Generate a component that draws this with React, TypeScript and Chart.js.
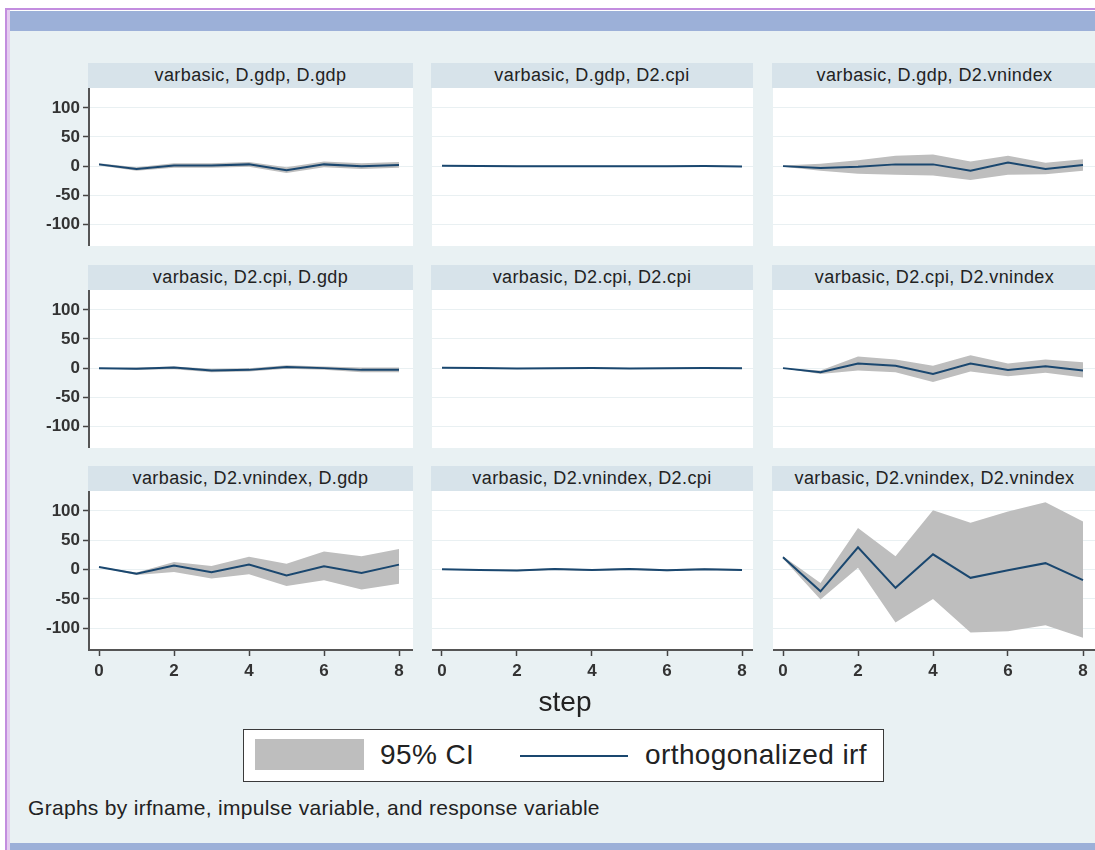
import React, { useEffect, useRef } from "react";
import { Chart, registerables } from "chart.js";

Chart.register(...registerables);

// ---------- data ----------
const steps = [0, 1, 2, 3, 4, 5, 6, 7, 8];
const yTicks = [-100, -50, 0, 50, 100];
const xTicks = [0, 2, 4, 6, 8];

const panelTitles = [
  "varbasic, D.gdp, D.gdp",
  "varbasic, D.gdp, D2.cpi",
  "varbasic, D.gdp, D2.vnindex",
  "varbasic, D2.cpi, D.gdp",
  "varbasic, D2.cpi, D2.cpi",
  "varbasic, D2.cpi, D2.vnindex",
  "varbasic, D2.vnindex, D.gdp",
  "varbasic, D2.vnindex, D2.cpi",
  "varbasic, D2.vnindex, D2.vnindex",
];

const irfGdpGdp = [3, -5, 1, 1, 3, -7, 3, 0, 2];
const loGdpGdp = [1, -8, -3, -3, -1, -12, -2, -5, -3];
const hiGdpGdp = [5, -2, 5, 5, 7, -2, 8, 5, 7];

const irfGdpCpi = [0.5, 0.3, 0, -0.3, -0.2, 0, -0.2, 0.2, -0.5];
const loGdpCpi = [0.3, -0.5, -0.8, -1, -1, -0.8, -1, -0.6, -1.3];
const hiGdpCpi = [0.7, 1, 0.8, 0.5, 0.6, 0.8, 0.6, 1, 0.3];

const irfGdpVn = [0, -3, -1, 3, 3, -8, 6, -5, 2];
const loGdpVn = [-1, -8, -13, -15, -16, -24, -15, -14, -8];
const hiGdpVn = [1, 4, 10, 18, 20, 8, 18, 6, 12];

const irfCpiGdp = [0, -1, 1, -4, -3, 2, 0, -3, -3];
const loCpiGdp = [0, -3, -2, -7, -6, -1, -3, -7, -7];
const hiCpiGdp = [0, 1, 3, -1, 0, 5, 3, 1, 1];

const irfCpiCpi = [0.5, 0.3, -0.8, 0, 0.2, -0.6, 0, 0.2, -0.3];
const loCpiCpi = [0.3, -0.3, -1.5, -0.8, -0.6, -1.4, -0.8, -0.6, -1.1];
const hiCpiCpi = [0.7, 0.9, 0, 0.8, 1, 0.2, 0.8, 1, 0.5];

const irfCpiVn = [0, -7, 8, 4, -10, 8, -3, 3, -4];
const loCpiVn = [0, -10, -4, -7, -24, -6, -14, -8, -16];
const hiCpiVn = [0, -4, 20, 15, 4, 22, 8, 15, 10];

const irfVnGdp = [4.5, -7, 7, -4.5, 8.5, -10, 5.7, -5.7, 8.5];
const loVnGdp = [4, -9, -4, -15, -8, -28, -18, -34, -24];
const hiVnGdp = [5, -5, 13, 6, 22, 10, 31, 23, 35];

const irfVnCpi = [0.5, -0.8, -1.5, 1, -0.8, 1, -1, 0.8, -0.5];
const loVnCpi = [0.3, -1.8, -2.8, -0.5, -2.3, -0.6, -2.6, -0.8, -2.1];
const hiVnCpi = [0.7, 0.2, -0.2, 2.5, 0.7, 2.6, 0.6, 2.4, 1.1];

const irfVnVn = [21, -37, 38, -31, 26, -14, -1, 11, -18];
const loVnVn = [19, -51, 3, -90, -50, -107, -105, -95, -116];
const hiVnVn = [23, -23, 71, 23, 101, 80, 99, 115, 82];

const panelIrf = [irfGdpGdp, irfGdpCpi, irfGdpVn, irfCpiGdp, irfCpiCpi, irfCpiVn, irfVnGdp, irfVnCpi, irfVnVn];
const panelLo = [loGdpGdp, loGdpCpi, loGdpVn, loCpiGdp, loCpiCpi, loCpiVn, loVnGdp, loVnCpi, loVnVn];
const panelHi = [hiGdpGdp, hiGdpCpi, hiGdpVn, hiCpiGdp, hiCpiCpi, hiCpiVn, hiVnGdp, hiVnCpi, hiVnVn];

const legendLabels = ["95% CI", "orthogonalized irf"];
const xAxisTitle = "step";
const noteText = "Graphs by irfname, impulse variable, and response variable";

// ---------- style / layout ----------
const FONT = '"Liberation Sans", Arial, Helvetica, sans-serif';
const NAVY = "#1a476f";
const CI_GRAY = "#bebebe";
const STRIP = "#d7e3ea";
const PANEL_BG = "#e9f1f3";
const GRID = "#e9f0f2";
const BLUE_BAR = "#9cb0d8";
const FRAME = "#c38ddf";

const COL_LEFT = [89, 432, 773];
const COL_W = [324, 321, 324];
const ROW_TOP = [88, 290, 491];
const ROW_H = [158, 158, 159];
const PX_PER_STEP = 37.5;
const X_MIN = -10 / PX_PER_STEP;
const Y_MIN = -137;
const Y_MAX = 134;

function Panel({ idx }: { idx: number }) {
  const ref = useRef<HTMLCanvasElement | null>(null);
  const row = Math.floor(idx / 3);
  const col = idx % 3;
  const left = COL_LEFT[col];
  const w = COL_W[col];
  const top = ROW_TOP[row];
  const h = ROW_H[row];
  const axisW = col === 0 ? 80 : 0;
  const axisH = row === 2 ? 42 : 0;
  const cw = w + axisW;
  const ch = h + axisH;

  useEffect(() => {
    if (!ref.current) return;
    const toPts = (arr: number[]) => steps.map((s, i) => ({ x: s, y: arr[i] }));
    const tickFont = { family: FONT, size: 17, weight: "bold" as const };
    const zeroPad = (s: any) => {
      s.paddingTop = 0;
      s.paddingBottom = 0;
      s.paddingLeft = 0;
      s.paddingRight = 0;
    };
    const chart = new Chart(ref.current, {
      type: "line",
      data: {
        datasets: [
          {
            label: legendLabels[1],
            data: toPts(panelIrf[idx]),
            borderColor: NAVY,
            borderWidth: 2,
            pointRadius: 0,
            fill: false,
            tension: 0,
          },
          {
            label: legendLabels[0],
            data: toPts(panelHi[idx]),
            borderColor: "rgba(0,0,0,0)",
            borderWidth: 0,
            pointRadius: 0,
            backgroundColor: CI_GRAY,
            fill: "+1",
            tension: 0,
          },
          {
            label: "lower",
            data: toPts(panelLo[idx]),
            borderColor: "rgba(0,0,0,0)",
            borderWidth: 0,
            pointRadius: 0,
            fill: false,
            tension: 0,
          },
        ],
      },
      options: {
        responsive: false,
        animation: false,
        devicePixelRatio: 1,
        layout: { padding: 0 },
        plugins: {
          legend: { display: false },
          tooltip: { enabled: false },
          title: { display: false },
        },
        scales: {
          x: {
            type: "linear",
            min: X_MIN,
            max: X_MIN + w / PX_PER_STEP,
            display: row === 2,
            afterBuildTicks: (s: any) => {
              s.ticks = xTicks.map((v) => ({ value: v }));
            },
            afterFit: (s: any) => {
              s.height = axisH;
              zeroPad(s);
            },
            grid: {
              drawOnChartArea: false,
              drawTicks: true,
              tickLength: 6,
              tickColor: "#444",
              tickWidth: 1.5,
            },
            border: { display: true, color: "#555", width: 2 },
            ticks: {
              font: tickFont,
              color: "#333",
              padding: 5,
              maxRotation: 0,
              autoSkip: false,
            },
          },
          y: {
            type: "linear",
            min: Y_MIN,
            max: Y_MAX,
            afterBuildTicks: (s: any) => {
              s.ticks = yTicks.map((v) => ({ value: v }));
            },
            afterFit: (s: any) => {
              s.width = axisW;
              zeroPad(s);
            },
            grid: {
              color: GRID,
              lineWidth: 1,
              drawTicks: col === 0,
              tickLength: 6,
              tickColor: "#444",
              tickWidth: 1.5,
            },
            border: { display: col === 0, color: "#555", width: 2 },
            ticks: {
              display: col === 0,
              font: tickFont,
              color: "#333",
              padding: 3,
              autoSkip: false,
            },
          },
        },
      },
    } as any);
    return () => chart.destroy();
  }, [idx]);

  return (
    <>
      <div
        style={{
          position: "absolute",
          left: left - 1,
          top: top - 25,
          width: w + 1,
          height: 25,
          background: STRIP,
          fontFamily: FONT,
          fontSize: 18,
          letterSpacing: "0.4px",
          color: "#222",
          textAlign: "center",
          lineHeight: "25px",
          whiteSpace: "nowrap",
        }}
      >
        {panelTitles[idx]}
      </div>
      <div
        style={{
          position: "absolute",
          left,
          top,
          width: w,
          height: h,
          background: "#ffffff",
        }}
      />
      <canvas
        ref={ref}
        width={cw}
        height={ch}
        style={{
          position: "absolute",
          left: left - axisW,
          top,
          width: cw,
          height: ch,
        }}
      />
    </>
  );
}

export default function App() {
  return (
    <div
      style={{
        position: "absolute",
        left: 0,
        top: 0,
        width: 1095,
        height: 850,
        overflow: "hidden",
        background: "#ffffff",
      }}
    >
      {/* outer frame */}
      <div
        style={{
          position: "absolute",
          left: 5,
          top: 8,
          width: 1200,
          height: 900,
          border: `2px solid ${FRAME}`,
          boxSizing: "border-box",
        }}
      />
      <div style={{ position: "absolute", left: 7, top: 10, width: 3, height: 900, background: "#e4cdf0" }} />
      {/* top blue bar */}
      <div style={{ position: "absolute", left: 10, top: 11, width: 1200, height: 20, background: BLUE_BAR }} />
      {/* panel background */}
      <div style={{ position: "absolute", left: 10, top: 31, width: 1200, height: 812, background: PANEL_BG }} />
      {/* bottom blue bar */}
      <div style={{ position: "absolute", left: 10, top: 843, width: 1200, height: 10, background: BLUE_BAR }} />

      {panelTitles.map((_, i) => (
        <Panel key={i} idx={i} />
      ))}

      {/* x axis title */}
      <div
        style={{
          position: "absolute",
          left: 465,
          width: 200,
          top: 684,
          textAlign: "center",
          fontFamily: FONT,
          fontSize: 28,
          color: "#222",
          lineHeight: "36px",
        }}
      >
        {xAxisTitle}
      </div>

      {/* legend */}
      <div
        style={{
          position: "absolute",
          left: 243,
          top: 729,
          width: 641,
          height: 53,
          boxSizing: "border-box",
          border: "1.5px solid #3a3a3a",
          background: "#ffffff",
        }}
      >
        <div style={{ position: "absolute", left: 11, top: 9, width: 109, height: 31, background: CI_GRAY }} />
        <div
          style={{
            position: "absolute",
            left: 136,
            top: 6,
            fontFamily: FONT,
            fontSize: 28,
            letterSpacing: "0.4px",
            color: "#222",
            lineHeight: "38px",
            whiteSpace: "nowrap",
          }}
        >
          {legendLabels[0]}
        </div>
        <div style={{ position: "absolute", left: 276, top: 25, width: 108, height: 2, background: NAVY }} />
        <div
          style={{
            position: "absolute",
            left: 401,
            top: 6,
            fontFamily: FONT,
            fontSize: 28,
            letterSpacing: "0.4px",
            color: "#222",
            lineHeight: "38px",
            whiteSpace: "nowrap",
          }}
        >
          {legendLabels[1]}
        </div>
      </div>

      {/* note */}
      <div
        style={{
          position: "absolute",
          left: 28,
          top: 795,
          fontFamily: FONT,
          fontSize: 21,
          letterSpacing: "0.3px",
          color: "#222",
          lineHeight: "26px",
          whiteSpace: "nowrap",
        }}
      >
        {noteText}
      </div>
    </div>
  );
}
